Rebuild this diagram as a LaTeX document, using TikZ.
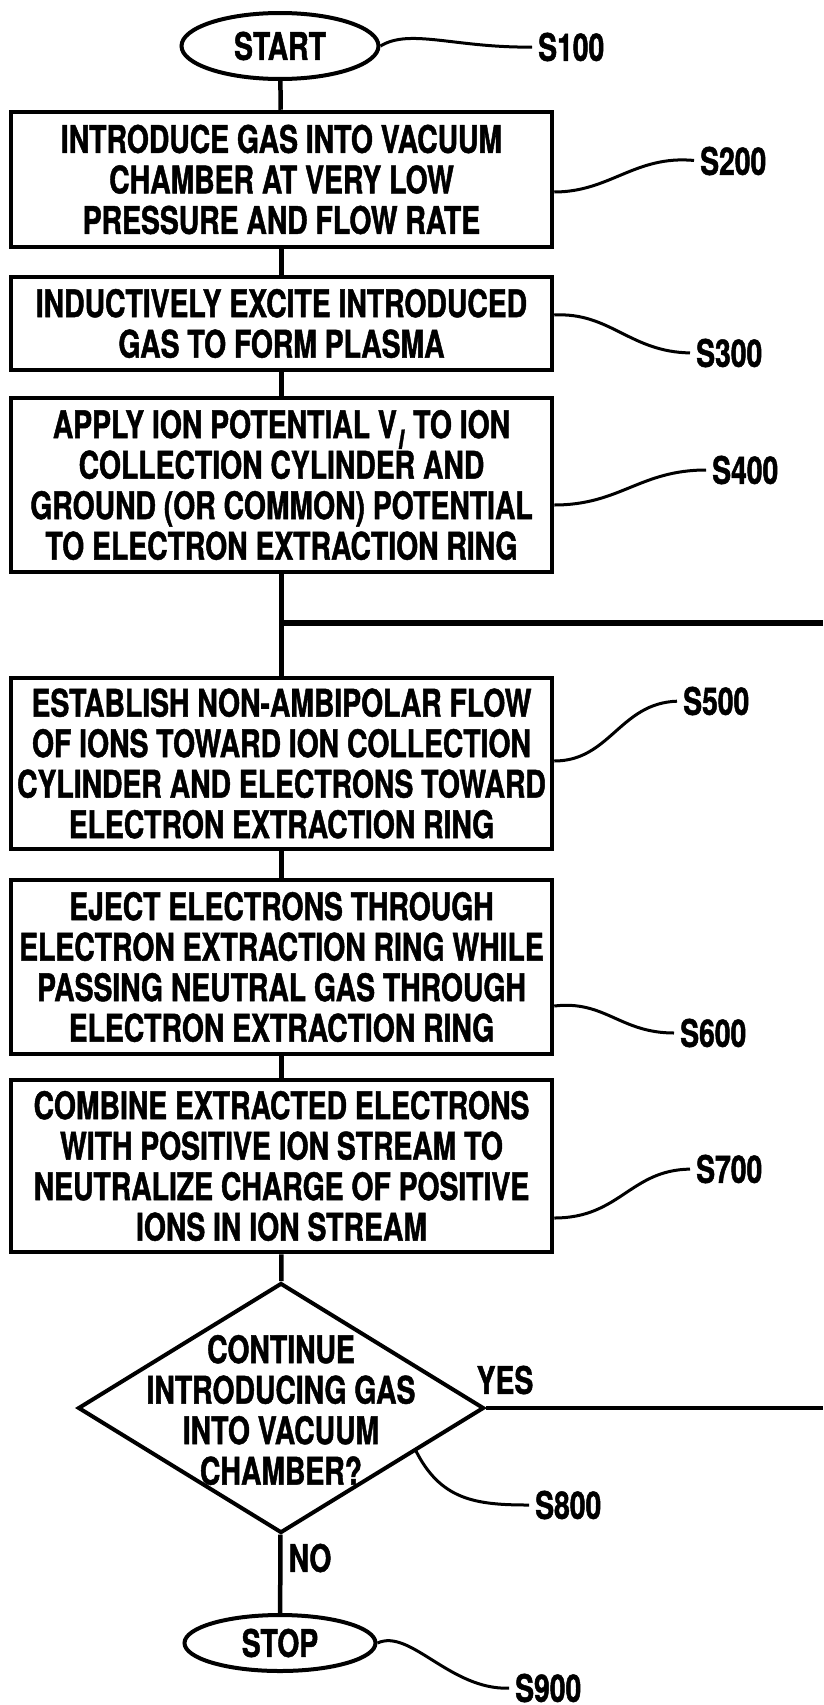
\documentclass[tikz,border=0pt]{standalone}
\usepackage{fontspec}
\setmainfont{TeX Gyre Heros}[FakeStretch=0.745, FakeBold=1.2]
\usetikzlibrary{shapes.geometric}

\tikzset{
  stepbox/.style={rectangle, draw, line width=4.5pt, minimum width=541pt, align=center, inner sep=0pt},
  term/.style={ellipse, draw, line width=4pt, inner sep=0pt},
  decision/.style={diamond, draw, line width=4pt, minimum width=406pt, minimum height=250pt, inner sep=0pt},
  flow/.style={line width=4.5pt},
  leader/.style={line width=3pt, shorten >=6pt},
  steplabel/.style={anchor=west, inner sep=0pt},
}

\begin{document}
\begin{tikzpicture}[x=1pt, y=-1pt, font=\fontsize{38}{40.5}\selectfont\bfseries]
        \useasboundingbox (0,0) rectangle (823,1705);

        % terminals and steps
        \node[term, minimum width=197pt, minimum height=66pt] (start) at (280,46) {START};
        \node[stepbox, minimum height=135pt] (b200) at (281.5,179.5) {INTRODUCE GAS INTO VACUUM\\CHAMBER AT VERY LOW\\PRESSURE AND FLOW RATE};
        \node[stepbox, minimum height=93pt] (b300) at (281.5,323.5) {INDUCTIVELY EXCITE INTRODUCED\\GAS TO FORM PLASMA};
        \node[stepbox, minimum height=174pt] (b400) at (281.5,485) {APPLY ION POTENTIAL V\kern1.5pt\textsubscript{\itshape I}\kern1pt{} TO ION\\COLLECTION CYLINDER AND\\GROUND (OR COMMON) POTENTIAL\\TO ELECTRON EXTRACTION RING};
        \node[stepbox, minimum height=171pt] (b500) at (281.5,763.5) {ESTABLISH NON-AMBIPOLAR FLOW\\OF IONS TOWARD ION COLLECTION\\CYLINDER AND ELECTRONS TOWARD\\ELECTRON EXTRACTION RING};
        \node[stepbox, minimum height=174pt] (b600) at (281.5,967) {EJECT ELECTRONS THROUGH\\ELECTRON EXTRACTION RING WHILE\\PASSING NEUTRAL GAS THROUGH\\ELECTRON EXTRACTION RING};
        \node[stepbox, minimum height=172pt] (b700) at (281.5,1166) {COMBINE EXTRACTED ELECTRONS\\WITH POSITIVE ION STREAM TO\\NEUTRALIZE CHARGE OF POSITIVE\\IONS IN ION STREAM};
        \node[decision] (d800) at (281,1408) {};
        \node[align=center, inner sep=0pt] (q800) at (281,1410) {CONTINUE\\INTRODUCING GAS\\INTO VACUUM\\CHAMBER?};
        \node[term, minimum width=191pt, minimum height=56pt] (stop) at (280,1643) {STOP};

        % step numbers
        \node[steplabel] (s100) at (538,47) {S100};
        \node[steplabel] (s200) at (700,161) {S200};
        \node[steplabel] (s300) at (696,353) {S300};
        \node[steplabel] (s400) at (712,470) {S400};
        \node[steplabel] (s500) at (683,701) {S500};
        \node[steplabel] (s600) at (680,1033) {S600};
        \node[steplabel] (s700) at (696,1169) {S700};
        \node[steplabel] (s800) at (535,1505) {S800};
        \node[steplabel] (s900) at (515,1688) {S900};
        \node (yes) at (505,1380) {YES};
        \node (no) at (310,1558) {NO};

        \coordinate (j500) at (281,623);
        \coordinate (r500) at (823,623);
        \coordinate (r800) at (823,1408);
        \coordinate (t800) at (415,1449);

        % flow
        \draw[flow] (start) -- (b200);
        \draw[flow] (b200) -- (b300);
        \draw[flow] (b300) -- (b400);
        \draw[flow] (b400) -- (b500);
        \draw[flow] (b500) -- (b600);
        \draw[flow] (b600) -- (b700);
        \draw[flow] (b700) -- (d800);
        \draw[flow] (d800) -- (stop);
        \draw[flow, line width=5.5pt] (j500) -- (r500);
        \draw[flow] (d800.east) -- (r800);

        % leaders
        \draw[leader] (start.east) .. controls (410,28) and (455,48) .. (s100.west);
        \draw[leader] ([yshift=-12.5pt]b200.east) .. controls (610,192) and (635,155) .. (s200.west);
        \draw[leader] ([yshift=8.5pt]b300.east) .. controls (610,312) and (630,352) .. (s300.west);
        \draw[leader] ([yshift=-20pt]b400.east) .. controls (620,505) and (640,470) .. (s400.west);
        \draw[leader] ([yshift=2.5pt]b500.east) .. controls (610,761) and (620,703) .. (s500.west);
        \draw[leader] ([yshift=-39pt]b600.east) .. controls (605,1000) and (620,1033) .. (s600.west);
        \draw[leader] ([yshift=-52pt]b700.east) .. controls (620,1218) and (630,1170) .. (s700.west);
        \draw[leader] (t800) .. controls (440,1500) and (475,1505) .. (s800.west);
        \draw[leader] (stop.east) .. controls (410,1628) and (450,1690) .. (s900.west);
      \end{tikzpicture}
\end{document}
